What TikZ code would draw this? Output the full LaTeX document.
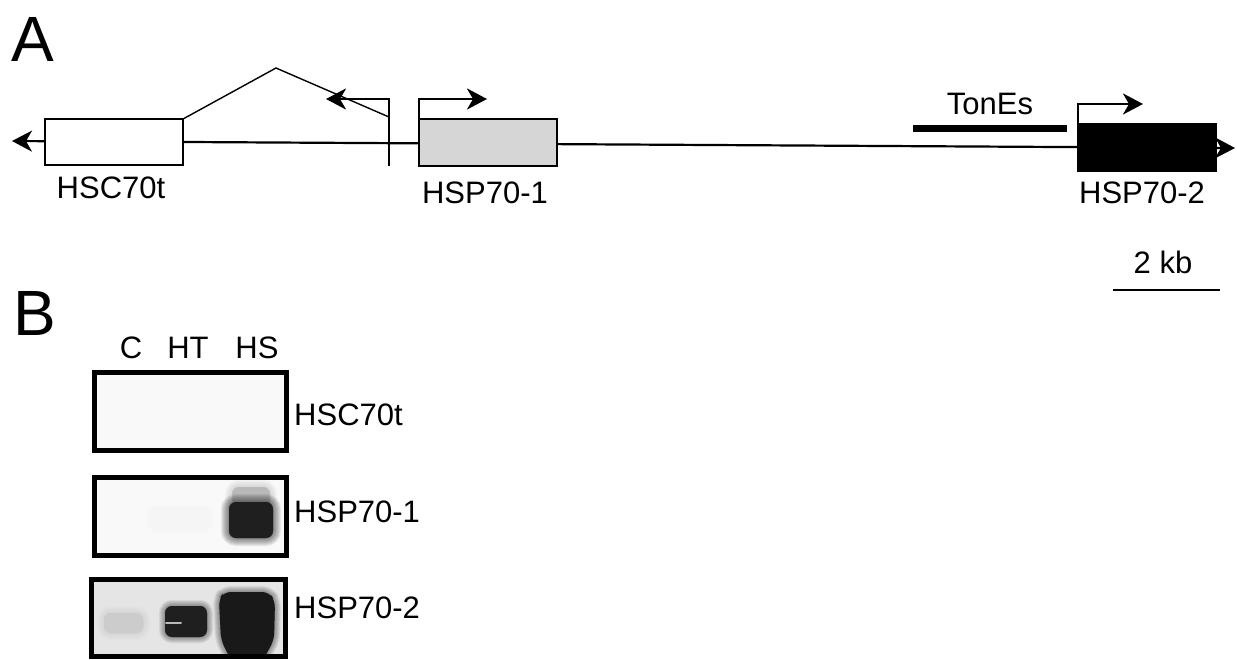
\documentclass[tikz,border=0pt]{standalone}
\usepackage{fontspec}
\setmainfont{Liberation Sans}
\usetikzlibrary{arrows.meta}
\tikzset{
  lbl/.style={font=\fontsize{31}{36}\selectfont, inner sep=0pt, anchor=base},
  panel/.style={font=\fontsize{64}{70}\selectfont, inner sep=0pt, anchor=base west},
  genebox/.style={draw=black, line width=2.6pt, rectangle, inner sep=0pt, outer sep=0pt},
  mainline/.style={line width=2.2pt, {Stealth[length=20pt,width=21pt,inset=6pt]}-{Stealth[length=20pt,width=21pt,inset=6pt]}},
  prom/.style={line width=2.8pt, -{Stealth[length=20pt,width=21pt,inset=6pt]}},
  blotframe/.style={draw=black, line width=5pt},
}
\newcommand{\fuzz}[4]{% #1 path, #2 colour, #3 halo steps, #4 opacity
  \foreach \k in {1,...,#3}{\fill[#2, opacity=#4, rounded corners=7pt, line width=2*\k pt, draw=#2, draw opacity=#4] #1;}
  \fill[#2, rounded corners=7pt] #1;
}
\begin{document}
\begin{tikzpicture}[x=1pt,y=-1pt]
\useasboundingbox (0,0) rectangle (1237,659);
\fill[white] (0,0) rectangle (1237,659);

% ---------- panel A ----------
\node[panel] (A) at (11,61) {A};

\coordinate (lt) at (12,141);
\coordinate (rt) at (1235,148);
\draw[mainline] (lt) -- (rt);

\node[genebox, fill=white, minimum width=138pt, minimum height=46pt] (hsc) at (114,142) {};
\node[genebox, fill=gray!32, minimum width=138pt, minimum height=47pt] (hsp1) at (488,142.5) {};
\node[genebox, fill=black, minimum width=138pt, minimum height=47pt] (hsp2) at (1147,147.5) {};

\node[lbl] (lhsc) at (111,198) {HSC70t};
\node[lbl] (lhsp1) at (485,203) {HSP70-1};
\node[lbl] (lhsp2) at (1142,203) {HSP70-2};

% splice line
\coordinate (peak) at (276,68);
\coordinate (splend) at (389,117);
\draw[line width=1.4pt] (hsc.north east) -- (peak) -- (splend);

% reverse promoter of HSC70t
\coordinate (rp0) at (389,166);
\coordinate (rp1) at (389,99);
\coordinate (rtip) at (326,99);
\draw[prom] (rp0) -- (rp1) -- (rtip);

% HSP70-1 promoter
\coordinate (tip1) at (487,99);
\draw[prom] (hsp1.north west) |- (tip1);

% HSP70-2 promoter
\coordinate (tip2) at (1143,104);
\draw[prom] (hsp2.north west) |- (tip2);

% TonEs
\coordinate (te1) at (913,128);
\coordinate (te2) at (1067,128);
\draw[line width=7pt] (te1) -- (te2);
\node[lbl] (tones) at (990,114) {TonEs};

% scale bar
\coordinate (sb1) at (1113,290);
\coordinate (sb2) at (1220,290);
\draw[line width=2.4pt] (sb1) -- (sb2);
\node[lbl] (kb) at (1163,273) {2 kb};

% ---------- panel B ----------
\node[panel] (B) at (13,335) {B};
\node[lbl] (cC) at (131,358) {C};
\node[lbl] (cHT) at (188,358) {HT};
\node[lbl] (cHS) at (257,358) {HS};

% blot 1
\fill[gray!5] (94.5,372.5) rectangle (286.5,450.5);
\draw[blotframe] (94.5,372.5) rectangle (286.5,450.5);
\node[lbl, anchor=base west] (b1) at (294,425) {HSC70t};

% blot 2
\fill[gray!5] (94.5,477.5) rectangle (286.5,555.5);
\begin{scope}
\clip (94.5,477.5) rectangle (286.5,555.5);
\fuzz{(150,508) rectangle (210,530)}{gray!8}{3}{0.1}
\fuzz{(232,487) rectangle (270,506)}{gray!55}{7}{0.08}
\fuzz{(229,502) rectangle (273,538)}{black!88}{8}{0.08}
\end{scope}
\draw[blotframe] (94.5,477.5) rectangle (286.5,555.5);
\node[lbl, anchor=base west] (b2) at (294,522) {HSP70-1};

% blot 3
\fill[gray!20] (91.5,579.5) rectangle (285.5,656.5);
\begin{scope}
\clip (91.5,579.5) rectangle (285.5,656.5);
\fuzz{(104,613) rectangle (143,633)}{gray!40}{7}{0.08}
\fuzz{(165,606) rectangle (207,637)}{black!88}{6}{0.08}
\draw[gray!55, line width=2pt, line cap=round] (166,623) -- (181,623);
\fuzz{(219,599) -- (224,592) -- (269,592) -- (275,601) -- (274,640) -- (263,660) -- (231,660) -- (221,640) -- cycle}{black!90}{6}{0.08}
\end{scope}
\draw[blotframe] (91.5,579.5) rectangle (285.5,656.5);
\node[lbl, anchor=base west] (b3) at (294,618) {HSP70-2};
\end{tikzpicture}
\end{document}
